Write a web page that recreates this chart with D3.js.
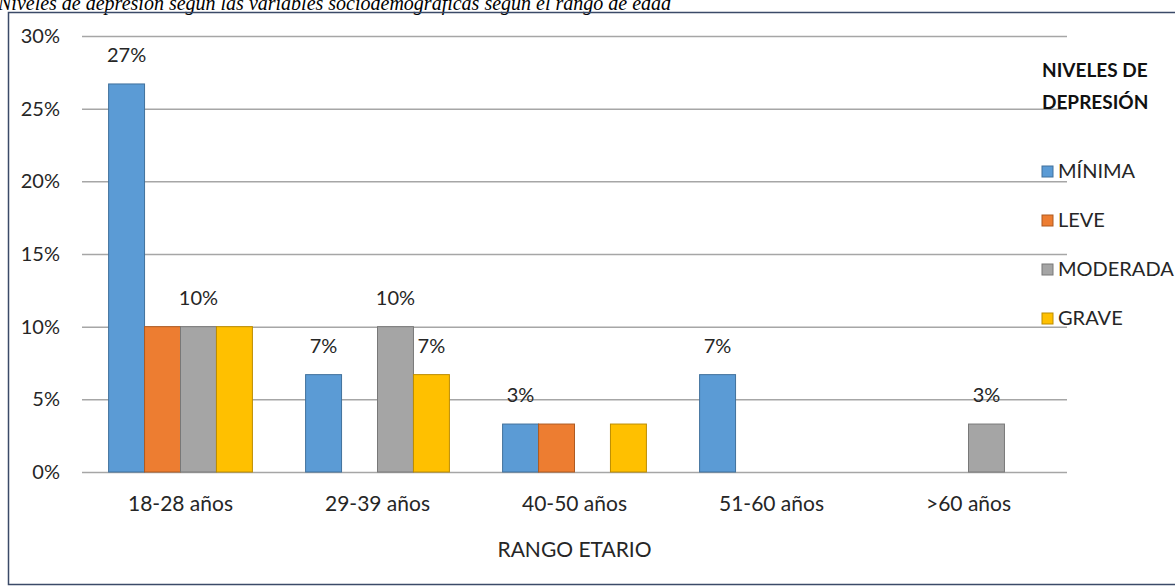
<!DOCTYPE html>
<html>
<head>
<meta charset="utf-8">
<script src="https://cdn.jsdelivr.net/npm/d3@7"></script>
<style>
  body { margin: 0; background: #fff; }
  svg text { font-family: Lato, "Open Sans", sans-serif; fill: #262626; }
</style>
</head>
<body>
<div id="chart"></div>
<script>
var svgWidth = 1175;
var svgHeight = 587;

// data (n = 30, so values are multiples of 3.33%)
var categories = ["18-28 años", "29-39 años", "40-50 años", "51-60 años", ">60 años"];
var seriesNames = ["MÍNIMA", "LEVE", "MODERADA", "GRAVE"];
var minima   = [26.7, 6.7, 3.3, 6.7, 0];
var leve     = [10, 0, 3.3, 0, 0];
var moderada = [10, 10, 0, 0, 3.3];
var grave    = [10, 6.7, 3.3, 0, 0];
// which value labels are visible in the original
var minimaLabels   = [1, 1, 1, 1, 0];
var leveLabels     = [0, 0, 0, 0, 0];
var moderadaLabels = [1, 1, 0, 0, 1];
var graveLabels    = [0, 1, 0, 0, 0];
var yTicks = [0, 5, 10, 15, 20, 25, 30];
var colors = ["#5B9BD5", "#ED7D31", "#A5A5A5", "#FFC000"];
var strokes = ["#41719C", "#AE5A21", "#787878", "#BC8C00"];

var allValues = [minima, leve, moderada, grave];
var allLabels = [minimaLabels, leveLabels, moderadaLabels, graveLabels];

var margin = { top: 36, left: 82, right: 108, bottom: 115 };
var width = svgWidth - margin.left - margin.right;
var height = svgHeight - margin.top - margin.bottom;

var svg = d3.select("#chart")
  .append("svg")
  .attr("width", svgWidth)
  .attr("height", svgHeight);

// caption above the frame (sits right against the top edge in the original)
svg.append("text")
  .attr("x", -2)
  .attr("y", 10)
  .style("font-family", "'Liberation Serif', serif")
  .style("font-style", "italic")
  .style("font-size", "20px")
  .style("fill", "#000")
  .text("Niveles de depresión según las variables sociodemográficas según el rango de edad");

// frame
svg.append("rect")
  .attr("x", 8.5)
  .attr("y", 12.5)
  .attr("width", 1175)
  .attr("height", 572)
  .attr("fill", "none")
  .attr("stroke", "#3B4A68")
  .attr("stroke-width", 1.5);

var chartGroup = svg.append("g")
  .attr("transform", `translate(${margin.left}, ${margin.top})`);

var x0 = d3.scaleBand()
  .domain(categories)
  .range([0, width])
  .paddingInner(0.27)
  .paddingOuter(0.135);

var x1 = d3.scaleBand()
  .domain(seriesNames)
  .range([0, x0.bandwidth()]);

var yScale = d3.scaleLinear()
  .domain([0, 30])
  .range([height, 0]);

// gridlines + y labels
var leftAxis = d3.axisLeft(yScale)
  .tickValues(yTicks)
  .tickSize(-width)
  .tickPadding(22)
  .tickFormat(d => d + "%");

var yAxisG = chartGroup.append("g").call(leftAxis);
yAxisG.select(".domain").remove();
yAxisG.selectAll("line")
  .attr("stroke", "#A6A6A6")
  .attr("stroke-width", 1.5);
yAxisG.selectAll("text")
  .style("font-size", "20px")
  .style("font-family", "Lato, sans-serif")
  .attr("fill", "#262626");

// x labels
var bottomAxis = d3.axisBottom(x0).tickSize(0).tickPadding(24);
var xAxisG = chartGroup.append("g")
  .attr("transform", `translate(0, ${height})`)
  .call(bottomAxis);
xAxisG.select(".domain").remove();
xAxisG.selectAll("text")
  .style("font-size", "21px")
  .style("font-family", "Lato, sans-serif")
  .attr("fill", "#262626");

// bars
var barData = [];
categories.forEach(function(cat, i) {
  seriesNames.forEach(function(s, j) {
    barData.push({ cat: cat, series: s, idx: j, value: allValues[j][i], show: allLabels[j][i] });
  });
});

chartGroup.selectAll(".bar")
  .data(barData.filter(d => d.value > 0))
  .enter()
  .append("rect")
  .attr("class", "bar")
  .attr("x", d => x0(d.cat) + x1(d.series))
  .attr("y", d => yScale(d.value))
  .attr("width", x1.bandwidth())
  .attr("height", d => height - yScale(d.value))
  .attr("fill", d => colors[d.idx])
  .attr("stroke", d => strokes[d.idx])
  .attr("stroke-width", 1);

// value labels
chartGroup.selectAll(".valueLabel")
  .data(barData.filter(d => d.show))
  .enter()
  .append("text")
  .attr("class", "valueLabel")
  .attr("x", d => x0(d.cat) + x1(d.series) + x1.bandwidth() / 2)
  .attr("y", d => yScale(d.value) - 22)
  .attr("text-anchor", "middle")
  .style("font-size", "20px")
  .text(d => Math.round(d.value) + "%");

// axis title
chartGroup.append("text")
  .attr("x", width / 2)
  .attr("y", height + 85)
  .attr("text-anchor", "middle")
  .style("font-size", "21px")
  .text("RANGO ETARIO");

// legend
var legend = svg.append("g")
  .attr("transform", "translate(1042, 0)");

legend.append("text")
  .attr("x", 0)
  .attr("y", 77)
  .style("font-size", "19px")
  .style("font-weight", "bold")
  .style("fill", "#111")
  .text("NIVELES DE");

legend.append("text")
  .attr("x", 0)
  .attr("y", 109)
  .style("font-size", "19px")
  .style("font-weight", "bold")
  .style("fill", "#111")
  .text("DEPRESIÓN");

var items = legend.selectAll(".item")
  .data(seriesNames)
  .enter()
  .append("g")
  .attr("class", "item")
  .attr("transform", (d, i) => `translate(0, ${171 + i * 49})`);

items.append("rect")
  .attr("x", 0)
  .attr("y", -5)
  .attr("width", 11)
  .attr("height", 11)
  .attr("fill", (d, i) => colors[i])
  .attr("stroke", (d, i) => strokes[i]);

items.append("text")
  .attr("x", 16)
  .attr("y", 7)
  .style("font-size", "20px")
  .text(d => d);
</script>
</body>
</html>
